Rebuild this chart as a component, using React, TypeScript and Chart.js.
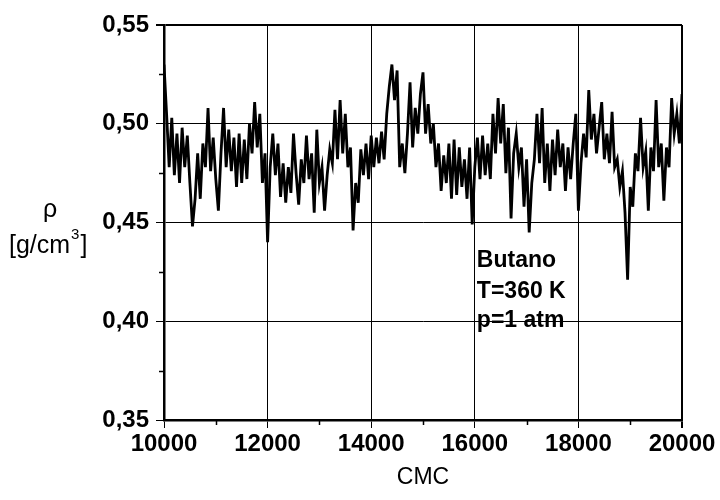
import { useEffect, useRef } from "react";
import { Chart, registerables } from "chart.js";

Chart.register(...registerables);

// CMC sampling grid (x) and density values
const cmcStart = 10000;
const cmcStep = 50;
const densityValues: number[] = [
  0.530, 0.505, 0.478, 0.503, 0.474, 0.495, 0.470, 0.498, 0.478, 0.494,
  0.470, 0.448, 0.462, 0.485, 0.462, 0.490, 0.478, 0.508, 0.476, 0.493,
  0.472, 0.456, 0.485, 0.508, 0.478, 0.497, 0.476, 0.493, 0.468, 0.495,
  0.470, 0.492, 0.472, 0.500, 0.485, 0.511, 0.488, 0.505, 0.470, 0.485,
  0.440, 0.478, 0.495, 0.474, 0.490, 0.463, 0.480, 0.460, 0.478, 0.465,
  0.495, 0.475, 0.459, 0.482, 0.470, 0.494, 0.472, 0.485, 0.455, 0.497,
  0.470, 0.478, 0.456, 0.474, 0.487, 0.480, 0.507, 0.482, 0.512, 0.485,
  0.505, 0.478, 0.488, 0.446, 0.470, 0.460, 0.487, 0.474, 0.490, 0.472,
  0.494, 0.478, 0.493, 0.480, 0.496, 0.482, 0.505, 0.519, 0.530, 0.512,
  0.527, 0.478, 0.490, 0.475, 0.495, 0.521, 0.488, 0.508, 0.495, 0.515,
  0.526, 0.495, 0.510, 0.490, 0.500, 0.478, 0.490, 0.466, 0.484, 0.470,
  0.490, 0.462, 0.492, 0.464, 0.488, 0.468, 0.482, 0.462, 0.488, 0.449,
  0.478, 0.493, 0.472, 0.494, 0.474, 0.490, 0.472, 0.505, 0.485, 0.513,
  0.490, 0.510, 0.475, 0.498, 0.452, 0.485, 0.495, 0.478, 0.488, 0.458,
  0.482, 0.445, 0.470, 0.482, 0.505, 0.480, 0.508, 0.470, 0.490, 0.466,
  0.492, 0.474, 0.497, 0.478, 0.490, 0.466, 0.488, 0.472, 0.490, 0.505,
  0.456, 0.480, 0.495, 0.483, 0.517, 0.492, 0.505, 0.485, 0.498, 0.511,
  0.482, 0.495, 0.480, 0.506, 0.478, 0.482, 0.468, 0.476, 0.455, 0.421,
  0.468, 0.458, 0.485, 0.476, 0.503, 0.478, 0.486, 0.456, 0.488, 0.476,
  0.512, 0.478, 0.490, 0.461, 0.488, 0.478, 0.513, 0.495, 0.505, 0.490,
  0.515,
];

const xTickValues = [10000, 12000, 14000, 16000, 18000, 20000];
const xMinorValues = [11000, 13000, 15000, 17000, 19000];
const yTickValues = [0.35, 0.4, 0.45, 0.5, 0.55];
const yMinorValues = [0.375, 0.425, 0.475, 0.525];
const annotationLines = ["Butano", "T=360 K", "p=1 atm"];
const annotationX = 16040;
const annotationY = [0.4305, 0.4148, 0.4001];
const yTitleSymbol = "ρ";
const yTitleUnit = "[g/cm";
const yTitleSup = "3";
const yTitleClose = "]";
const xTitle = "CMC";

const FONT = '"Liberation Sans", Arial, Helvetica, sans-serif';

export default function App() {
  const ref = useRef<HTMLCanvasElement | null>(null);

  useEffect(() => {
    document.body.style.margin = "0";
    const canvas = ref.current;
    if (!canvas) return;

    const points = densityValues.map((v, i) => ({ x: cmcStart + i * cmcStep, y: v }));

    const decorPlugin = {
      id: "decor",
      afterDraw(chart: any) {
        const ctx = chart.ctx as CanvasRenderingContext2D;
        const xs = chart.scales.x;
        const ys = chart.scales.y;
        const area = chart.chartArea;
        ctx.save();
        ctx.strokeStyle = "#000";
        ctx.lineWidth = 1.5;
        // minor ticks
        ctx.beginPath();
        for (const v of xMinorValues) {
          const px = Math.round(xs.getPixelForValue(v)) + 0.5;
          ctx.moveTo(px, area.bottom);
          ctx.lineTo(px, area.bottom + 5);
        }
        for (const v of yMinorValues) {
          const py = Math.round(ys.getPixelForValue(v)) + 0.5;
          ctx.moveTo(area.left, py);
          ctx.lineTo(area.left - 5, py);
        }
        ctx.stroke();

        ctx.fillStyle = "#000";
        // annotation
        ctx.font = `bold 23px ${FONT}`;
        ctx.textAlign = "left";
        ctx.textBaseline = "middle";
        annotationLines.forEach((t, i) => {
          ctx.fillText(t, xs.getPixelForValue(annotationX), ys.getPixelForValue(annotationY[i]));
        });

        // x title
        ctx.font = `23px ${FONT}`;
        ctx.textAlign = "center";
        ctx.fillText(xTitle, (area.left + area.right) / 2, 478);

        // y title
        ctx.font = `25px ${FONT}`;
        ctx.fillText(yTitleSymbol, 50, 210);
        ctx.textAlign = "left";
        const w1 = ctx.measureText(yTitleUnit).width;
        const x0 = 9;
        const yBase = 246;
        ctx.fillText(yTitleUnit, x0, yBase);
        ctx.font = `15px ${FONT}`;
        const w2 = ctx.measureText(yTitleSup).width;
        ctx.fillText(yTitleSup, x0 + w1 + 1, yBase - 11);
        ctx.font = `25px ${FONT}`;
        ctx.fillText(yTitleClose, x0 + w1 + w2 + 2, yBase);
        ctx.restore();
      },
    };

    const chart = new Chart(canvas, {
      type: "line",
      data: {
        datasets: [
          {
            data: points,
            borderColor: "#000",
            borderWidth: 2.8,
            pointRadius: 0,
            tension: 0,
            fill: false,
          },
        ],
      },
      options: {
        animation: false,
        responsive: false,
        layout: { padding: { top: 25, right: 38, left: 0, bottom: 0 } },
        plugins: { legend: { display: false }, tooltip: { enabled: false } },
        scales: {
          x: {
            type: "linear",
            min: 10000,
            max: 20000,
            afterBuildTicks: (s: any) => {
              s.ticks = xTickValues.map((v) => ({ value: v }));
            },
            afterFit: (s: any) => {
              s.height = 80;
            },
            ticks: {
              autoSkip: false,
              maxRotation: 0,
              padding: 2,
              color: "#000",
              font: { family: FONT, size: 24, weight: "bold" },
              callback: (v: any) => String(v),
            },
            grid: {
              color: "#000",
              lineWidth: (c: any) => (c.tick && c.tick.value === 20000 ? 2 : 1),
              tickLength: 8,
              drawTicks: true,
            },
            border: { color: "#000", width: 2.5 },
          },
          y: {
            type: "linear",
            min: 0.35,
            max: 0.55,
            afterBuildTicks: (s: any) => {
              s.ticks = yTickValues.map((v) => ({ value: v }));
            },
            afterFit: (s: any) => {
              s.width = 164;
            },
            ticks: {
              autoSkip: false,
              padding: 7,
              color: "#000",
              font: { family: FONT, size: 24, weight: "bold" },
              callback: (v: any) => Number(v).toFixed(2).replace(".", ","),
            },
            grid: {
              color: "#000",
              lineWidth: (c: any) => (c.tick && Math.abs(c.tick.value - 0.55) < 1e-9 ? 2 : 1),
              tickLength: 8,
              drawTicks: true,
            },
            border: { color: "#000", width: 2.5 },
          },
        },
      },
      plugins: [decorPlugin],
    });

    return () => chart.destroy();
  }, []);

  return (
    <div style={{ position: "absolute", left: 0, top: 0, width: 720, height: 500 }}>
      <canvas ref={ref} width={720} height={500} style={{ display: "block" }} />
    </div>
  );
}
